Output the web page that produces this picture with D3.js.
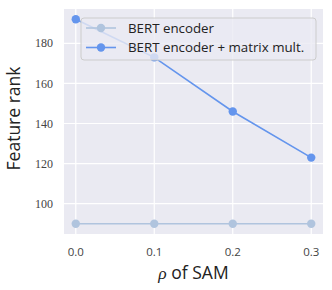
<!DOCTYPE html>
<html>
<head>
<meta charset="utf-8">
<script src="https://cdn.jsdelivr.net/npm/d3@7"></script>
<style>
  body { margin: 0; background: #fff; }
  .ytick { font-family: "Liberation Serif", "DejaVu Serif", serif; font-size: 12px; fill: #444; }
  .xtick { font-family: "Open Sans", "DejaVu Sans", sans-serif; font-size: 11.5px; fill: #444; }
  .axisText { font-family: "Open Sans", "DejaVu Sans", sans-serif; font-size: 17.5px; fill: #222; }
  .legText { font-family: "Open Sans", "DejaVu Sans", sans-serif; font-size: 13.3px; fill: #222; }
</style>
</head>
<body>
<div id="plot"></div>
<script>
// Data
var rhoValues = [0.0, 0.1, 0.2, 0.3];
var bertEncoder = [90, 90, 90, 90];
var bertMatrix = [192, 173, 146, 123];
var xTicks = [0.0, 0.1, 0.2, 0.3];
var yTicks = [100, 120, 140, 160, 180];
var seriesNames = ["BERT encoder", "BERT encoder + matrix mult."];
var seriesColors = ["#b0c4de", "#6495ed"];

var svgWidth = 332;
var svgHeight = 290;

var margin = { top: 9, right: 9, bottom: 56, left: 64 };
var chartWidth = svgWidth - margin.left - margin.right;
var chartHeight = svgHeight - margin.top - margin.bottom;

var svg = d3.select("#plot")
  .append("svg")
  .attr("width", svgWidth)
  .attr("height", svgHeight);

var chartGroup = svg.append("g")
  .attr("transform", `translate(${margin.left}, ${margin.top})`);

// matplotlib-style 5% margins
var xPad = 0.3 * 0.05;
var xLinearScale = d3.scaleLinear()
  .domain([0 - xPad, 0.3 + xPad])
  .range([0, chartWidth]);

var yMin = 90, yMax = 192, yPad = (yMax - yMin) * 0.05;
var yLinearScale = d3.scaleLinear()
  .domain([yMin - yPad, yMax + yPad])
  .range([chartHeight, 0]);

// background
chartGroup.append("rect")
  .attr("width", chartWidth)
  .attr("height", chartHeight)
  .attr("fill", "#eaeaf2");

// grid lines
chartGroup.selectAll(".xgrid")
  .data(xTicks)
  .enter()
  .append("line")
  .attr("x1", d => xLinearScale(d))
  .attr("x2", d => xLinearScale(d))
  .attr("y1", 0)
  .attr("y2", chartHeight)
  .attr("stroke", "#fff")
  .attr("stroke-width", 1.2);

chartGroup.selectAll(".ygrid")
  .data(yTicks)
  .enter()
  .append("line")
  .attr("y1", d => yLinearScale(d))
  .attr("y2", d => yLinearScale(d))
  .attr("x1", 0)
  .attr("x2", chartWidth)
  .attr("stroke", "#fff")
  .attr("stroke-width", 1.2);

// tick labels
chartGroup.selectAll(".ytick")
  .data(yTicks)
  .enter()
  .append("text")
  .attr("class", "ytick")
  .attr("x", -11)
  .attr("y", d => yLinearScale(d))
  .attr("dy", "0.35em")
  .attr("text-anchor", "end")
  .text(d => d);

chartGroup.selectAll(".xtick")
  .data(xTicks)
  .enter()
  .append("text")
  .attr("class", "xtick")
  .attr("x", d => xLinearScale(d))
  .attr("y", chartHeight + 22)
  .attr("text-anchor", "middle")
  .text(d => d.toFixed(1));

// lines
var drawLine = d3.line()
  .x((d, i) => xLinearScale(rhoValues[i]))
  .y(d => yLinearScale(d));

[bertEncoder, bertMatrix].forEach(function(series, s) {
  chartGroup.append("path")
    .attr("d", drawLine(series))
    .attr("fill", "none")
    .attr("stroke", seriesColors[s])
    .attr("stroke-width", 1.6);

  chartGroup.selectAll(".pt" + s)
    .data(series)
    .enter()
    .append("circle")
    .attr("cx", (d, i) => xLinearScale(rhoValues[i]))
    .attr("cy", d => yLinearScale(d))
    .attr("r", 4.2)
    .attr("fill", seriesColors[s]);
});

// legend
var legend = chartGroup.append("g")
  .attr("transform", "translate(17, 9)");

legend.append("rect")
  .attr("width", 235)
  .attr("height", 42)
  .attr("rx", 3)
  .attr("fill", "#eaeaf2")
  .attr("fill-opacity", 0.8)
  .attr("stroke", "#cccccc")
  .attr("stroke-width", 1);

seriesNames.forEach(function(name, s) {
  var ly = 10 + s * 19.5;
  legend.append("line")
    .attr("x1", 5)
    .attr("x2", 35)
    .attr("y1", ly)
    .attr("y2", ly)
    .attr("stroke", seriesColors[s])
    .attr("stroke-width", 1.6);
  legend.append("circle")
    .attr("cx", 20)
    .attr("cy", ly)
    .attr("r", 4.2)
    .attr("fill", seriesColors[s]);
  legend.append("text")
    .attr("class", "legText")
    .attr("x", 47)
    .attr("y", ly)
    .attr("dy", "0.35em")
    .text(name);
});

// axis labels
chartGroup.append("text")
  .attr("class", "axisText")
  .attr("transform", `translate(${-44}, ${chartHeight / 2 - 3}) rotate(-90)`)
  .attr("text-anchor", "middle")
  .text("Feature rank");

var xl = chartGroup.append("text")
  .attr("class", "axisText")
  .attr("x", chartWidth / 2)
  .attr("y", chartHeight + 45)
  .attr("text-anchor", "middle");
xl.append("tspan")
  .attr("font-family", "Liberation Serif, DejaVu Serif, serif")
  .attr("font-style", "italic")
  .text("ρ");
xl.append("tspan").text(" of SAM");
</script>
</body>
</html>
